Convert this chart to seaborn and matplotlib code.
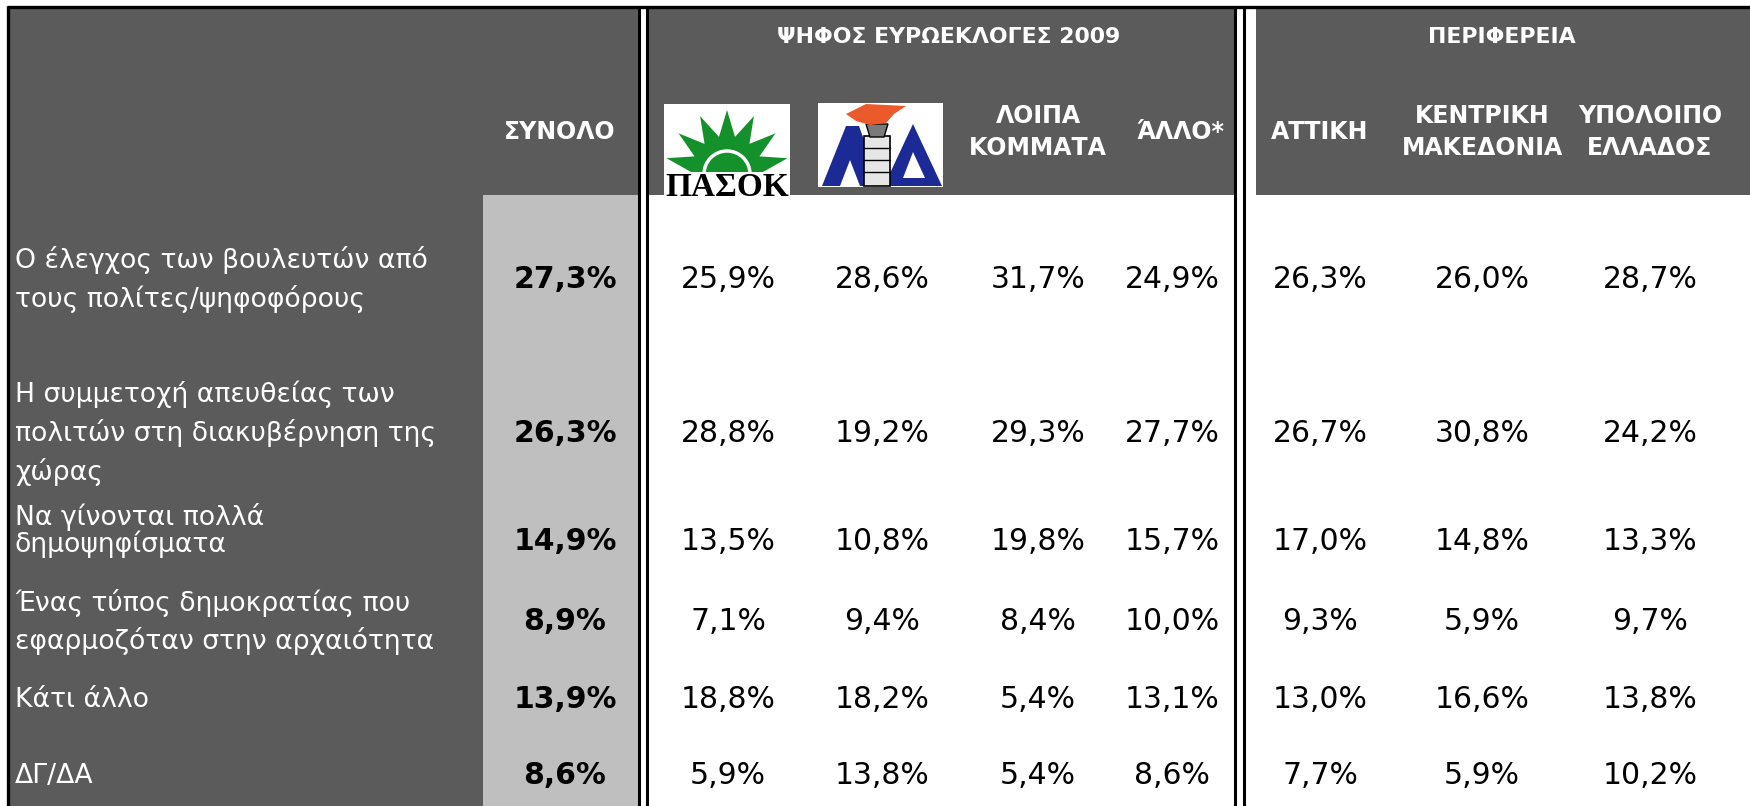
import numpy as np
import matplotlib.pyplot as plt
import seaborn as sns
from matplotlib.patches import Rectangle, Polygon, Arc

# Data
row_labels = [
    'Ο έλεγχος των βουλευτών από\nτους πολίτες/ψηφοφόρους',
    'Η συμμετοχή απευθείας των\nπολιτών στη διακυβέρνηση της\nχώρας',
    'Να γίνονται πολλά\nδημοψηφίσματα',
    'Ένας τύπος δημοκρατίας που\nεφαρμοζόταν στην αρχαιότητα',
    'Κάτι άλλο',
    'ΔΓ/ΔΑ',
]
total = [27.3, 26.3, 14.9, 8.9, 13.9, 8.6]
pasok = [25.9, 28.8, 13.5, 7.1, 18.8, 5.9]
nd = [28.6, 19.2, 10.8, 9.4, 18.2, 13.8]
loipa = [31.7, 29.3, 19.8, 8.4, 5.4, 5.4]
allo = [24.9, 27.7, 15.7, 10.0, 13.1, 8.6]
attiki = [26.3, 26.7, 17.0, 9.3, 13.0, 7.7]
kentriki = [26.0, 30.8, 14.8, 5.9, 16.6, 5.9]
ypoloipo = [28.7, 24.2, 13.3, 9.7, 13.8, 10.2]

group_titles = ['ΨΗΦΟΣ ΕΥΡΩΕΚΛΟΓΕΣ 2009', 'ΠΕΡΙΦΕΡΕΙΑ']
col_headers = ['ΣΥΝΟΛΟ', None, None, 'ΛΟΙΠΑ\nΚΟΜΜΑΤΑ', 'ΆΛΛΟ*',
               'ΑΤΤΙΚΗ', 'ΚΕΝΤΡΙΚΗ\nΜΑΚΕΔΟΝΙΑ', 'ΥΠΟΛΟΙΠΟ\nΕΛΛΑΔΟΣ']

columns = [total, pasok, nd, loipa, allo, attiki, kentriki, ypoloipo]

# Layout (pixels, y downwards)
col_x = [565, 728, 882, 1038, 1172, 1320, 1482, 1650]
header_x = [560, None, None, 1038, 1180, 1320, 1482, 1650]
value_y = [279, 433, 541, 622, 700, 776]
label_top = [260, 394, 517, 603, 700, 776]
label_step = [39, 39, 27, 38, 0, 0]

DARK = '#5b5b5b'
LIGHT = '#bfbfbf'


def fmt(v):
    return f'{v:.1f}%'.replace('.', ',')


sns.set_theme(style='white')
plt.rcParams['font.family'] = ['DejaVu Sans']

fig = plt.figure(figsize=(17.5, 8.06), dpi=100)
ax = fig.add_axes([0, 0, 1, 1])
ax.set_xlim(0, 1750)
ax.set_ylim(806, 0)
ax.axis('off')

# panels
ax.add_patch(Rectangle((8, 7), 631, 799, color=DARK, lw=0))
ax.add_patch(Rectangle((483, 195), 156, 611, color=LIGHT, lw=0))
ax.add_patch(Rectangle((648, 7), 587, 188, color=DARK, lw=0))
ax.add_patch(Rectangle((1256, 7), 494, 188, color=DARK, lw=0))

# borders and double separators
ax.plot([7, 1750], [7, 7], color='black', lw=2.4, solid_capstyle='butt')
ax.plot([8, 8], [6, 806], color='black', lw=2.4, solid_capstyle='butt')
for xv in [639, 647, 1235, 1244]:
    ax.plot([xv, xv], [6, 806], color='black', lw=2.2, solid_capstyle='butt')

# group titles
ax.text(949, 37, group_titles[0], color='white', fontsize=15.8, fontweight='bold',
        ha='center', va='center')
ax.text(1502, 37, group_titles[1], color='white', fontsize=15.8, fontweight='bold',
        ha='center', va='center')

# column headers
for hx, h in zip(header_x, col_headers):
    if h is None:
        continue
    ax.text(hx, 132, h, color='white', fontsize=17, fontweight='bold',
            ha='center', va='center', linespacing=1.45)

# PASOK logo
ax.add_patch(Rectangle((664, 104), 126, 91, color='white', lw=0))
cx, cy = 727, 172
angs = np.linspace(0, 180, 15)
pts = []
for i, a in enumerate(angs):
    r = 36 if i % 2 == 0 else 62
    pts.append((cx + r * np.cos(np.radians(a)), cy - r * np.sin(np.radians(a))))
ax.add_patch(Polygon(pts, closed=True, color='#14912a', lw=0))
ax.add_patch(Arc((cx, cy + 2), 46, 46, theta1=180, theta2=360, color='white', lw=2.5))
ax.add_patch(Rectangle((664, 172), 126, 23, color='white', lw=0))
ax.text(727, 196, 'ΠΑΣΟΚ', family='Liberation Serif', fontweight='bold', fontsize=24,
        color='black', ha='center', va='baseline')

# ND logo
ax.add_patch(Rectangle((818, 103), 125, 84, color='white', lw=0))
blue = '#1b2a95'
ax.add_patch(Polygon([(822, 186), (846, 126), (859, 126), (869, 154), (869, 186),
                      (860, 186), (850, 160), (840, 186)], closed=True, color=blue, lw=0))
ax.add_patch(Polygon([(884, 186), (913, 124), (942, 186)], closed=True, color=blue, lw=0))
ax.add_patch(Polygon([(903, 178), (913, 152), (925, 178)], closed=True, color='white', lw=0))
ax.add_patch(Rectangle((864, 136), 26, 50, facecolor='#e6e6e6', edgecolor='black', lw=1.2))
for yy in [148, 160, 172]:
    ax.plot([864, 890], [yy, yy], color='black', lw=1)
ax.add_patch(Polygon([(866, 124), (888, 124), (884, 137), (870, 137)], closed=True,
                     facecolor='#7a7a7a', edgecolor='black', lw=1))
ax.add_patch(Polygon([(846, 114), (866, 104), (906, 106), (894, 114), (886, 123),
                      (870, 125), (856, 121)], closed=True, color='#ec5a2c', lw=0))

# row labels
for lab, y0, st in zip(row_labels, label_top, label_step):
    for k, line in enumerate(lab.split('\n')):
        ax.text(15, y0 + k * st, line, color='white', fontsize=19.2,
                ha='left', va='center')

# values
for ci, (vals, x) in enumerate(zip(columns, col_x)):
    for v, y in zip(vals, value_y):
        ax.text(x, y, fmt(v), color='black', fontsize=21.5,
                fontweight='bold' if ci == 0 else 'normal',
                ha='center', va='center')

fig.savefig('out.png', dpi=100)
